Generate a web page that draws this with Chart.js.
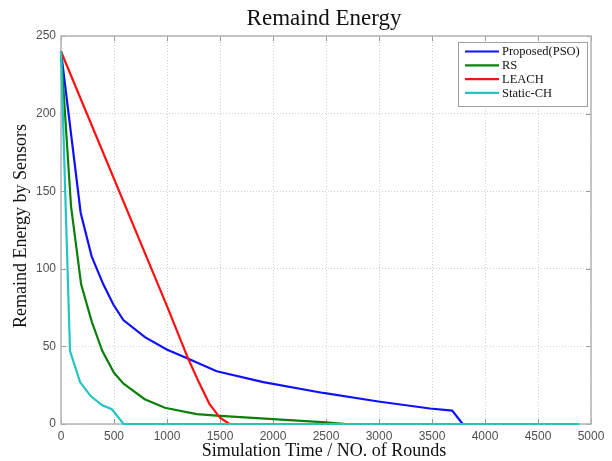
<!DOCTYPE html>
<html>
<head>
<meta charset="utf-8">
<script src="https://cdn.jsdelivr.net/npm/chart.js@4"></script>
<style>
  html, body { margin: 0; padding: 0; background: #fff; }
  #wrap { width: 612px; height: 461px; }
</style>
</head>
<body>
<div id="wrap"><canvas id="myChart" width="612" height="461"></canvas></div>
<script>
// Data
const SERIES_NAMES = ['Proposed(PSO)', 'RS', 'LEACH', 'Static-CH'];
const SERIES_COLORS = ['#1010ff', '#0a800a', '#ff1010', '#22c4c4'];

const psoRounds = [0, 186, 289, 399, 494, 588, 792, 997, 1201, 1469, 1909, 2475, 2994, 3481, 3690, 3790];
const psoEnergy = [240, 136, 108, 90, 77, 67, 56, 48, 42, 34, 27, 20, 14.5, 10, 8.6, 0];

const rsRounds = [0, 95, 190, 290, 390, 500, 590, 790, 980, 1280, 1500, 2000, 2500, 2690];
const rsEnergy = [240, 140, 90, 66, 47, 33, 26, 16, 10.5, 6.4, 5.2, 3.2, 1.1, 0];

const leachRounds = [0, 1000, 1200, 1300, 1400, 1500, 1590];
const leachEnergy = [240, 76, 42, 27, 13, 4, 0];

const staticRounds = [0, 85, 180, 280, 390, 480, 590, 4890];
const staticEnergy = [240, 47, 27, 18, 12, 9.5, 0, 0];

const X_TICKS = [0, 500, 1000, 1500, 2000, 2500, 3000, 3500, 4000, 4500, 5000];
const Y_TICKS = [0, 50, 100, 150, 200, 250];

const TITLE = 'Remaind Energy';
const X_TITLE = 'Simulation Time / NO. of Rounds';
const Y_TITLE = 'Remaind Energy by Sensors';

const toPoints = (xs, ys) => xs.map((x, i) => ({ x: x, y: ys[i] }));
const allRounds = [psoRounds, rsRounds, leachRounds, staticRounds];
const allEnergy = [psoEnergy, rsEnergy, leachEnergy, staticEnergy];

const SERIF = '"Liberation Serif", "DejaVu Serif", serif';
const SANS = '"Liberation Sans", Arial, sans-serif';

// frame, inner ticks, titles and legend drawn around the library's axes
const decorations = {
  id: 'decorations',
  beforeDatasetsDraw(chart) {
    const { ctx, chartArea: a, scales } = chart;
    ctx.save();
    ctx.strokeStyle = '#9a9a9a';
    ctx.lineWidth = 1;
    ctx.beginPath();
    X_TICKS.forEach(v => {
      const px = Math.round(scales.x.getPixelForValue(v)) + 0.5;
      ctx.moveTo(px, a.bottom); ctx.lineTo(px, a.bottom - 5);
      ctx.moveTo(px, a.top); ctx.lineTo(px, a.top + 5);
    });
    Y_TICKS.forEach(v => {
      const py = Math.round(scales.y.getPixelForValue(v)) + 0.5;
      ctx.moveTo(a.left, py); ctx.lineTo(a.left + 5, py);
      ctx.moveTo(a.right, py); ctx.lineTo(a.right - 5, py);
    });
    ctx.stroke();
    // frame
    ctx.strokeStyle = '#b4b4b4';
    ctx.lineWidth = 1.5;
    ctx.strokeRect(a.left, a.top, a.right - a.left, a.bottom - a.top);
    ctx.restore();
  },
  afterDraw(chart) {
    const { ctx, chartArea: a } = chart;
    ctx.save();
    // titles
    ctx.fillStyle = '#111';
    ctx.textAlign = 'center';
    ctx.textBaseline = 'middle';
    ctx.font = '23px ' + SERIF;
    ctx.fillText(TITLE, 324, 19);
    ctx.font = '18px ' + SERIF;
    ctx.fillText(X_TITLE, 324, 451);
    ctx.translate(21, 226);
    ctx.rotate(-Math.PI / 2);
    ctx.fillText(Y_TITLE, 0, 0);
    ctx.restore();

    // legend
    ctx.save();
    const lx = 458, ly = 42, lw = 129, lh = 64;
    ctx.fillStyle = '#fff';
    ctx.fillRect(lx, ly, lw, lh);
    ctx.strokeStyle = '#a0a0a0';
    ctx.lineWidth = 1;
    ctx.strokeRect(lx + 0.5, ly + 0.5, lw, lh);
    ctx.font = '12.5px ' + SERIF;
    ctx.textBaseline = 'middle';
    ctx.textAlign = 'left';
    SERIES_NAMES.forEach((name, i) => {
      const y = ly + 9.5 + i * 13.8;
      ctx.strokeStyle = SERIES_COLORS[i];
      ctx.lineWidth = 2.2;
      ctx.beginPath();
      ctx.moveTo(lx + 7, y); ctx.lineTo(lx + 41, y);
      ctx.stroke();
      ctx.fillStyle = '#111';
      ctx.fillText(name, lx + 44, y + 0.5);
    });
    ctx.restore();
  }
};

const ctx = document.getElementById('myChart');
const chart = new Chart(ctx, {
  type: 'line',
  data: {
    datasets: SERIES_NAMES.map((name, i) => ({
      label: name,
      data: toPoints(allRounds[i], allEnergy[i]),
      borderColor: SERIES_COLORS[i],
      backgroundColor: SERIES_COLORS[i],
      borderWidth: 2.2,
      pointRadius: 0,
      tension: 0,
      fill: false,
      clip: 4,
      order: SERIES_NAMES.length - i
    }))
  },
  options: {
    responsive: false,
    animation: false,
    layout: { padding: { left: 0, right: 21, top: 36, bottom: 0 } },
    plugins: {
      legend: { display: false },
      title: { display: false },
      tooltip: { enabled: false }
    },
    scales: {
      x: {
        type: 'linear',
        min: 0,
        max: 5000,
        afterBuildTicks: (s) => { s.ticks = X_TICKS.map(v => ({ value: v })); },
        afterFit: (s) => { s.height = 37; },
        border: { display: false, dash: [1, 2] },
        grid: { color: '#d0d0d0', drawTicks: false, tickLength: 0 },
        ticks: {
          color: '#505050', font: { family: SANS, size: 12 }, padding: 5, maxRotation: 0,
          callback: (v) => String(v)
        }
      },
      y: {
        type: 'linear',
        min: 0,
        max: 250,
        afterBuildTicks: (s) => { s.ticks = Y_TICKS.map(v => ({ value: v })); },
        afterFit: (s) => { s.width = 61; },
        border: { display: false, dash: [1, 2] },
        grid: { color: '#d0d0d0', drawTicks: false, tickLength: 0 },
        ticks: {
          color: '#505050', font: { family: SANS, size: 12 }, padding: 5,
          callback: (v) => String(v)
        }
      }
    }
  },
  plugins: [decorations]
});
</script>
</body>
</html>
